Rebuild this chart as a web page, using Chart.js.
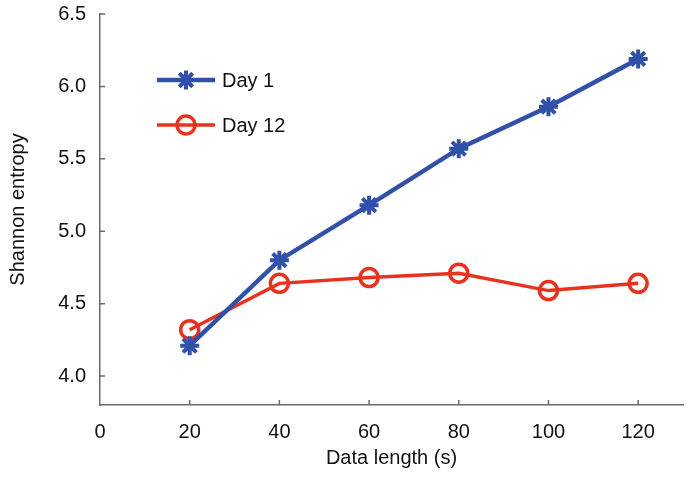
<!DOCTYPE html>
<html><head><meta charset="utf-8">
<script src="https://cdn.jsdelivr.net/npm/chart.js@4/dist/chart.umd.min.js"></script>
<style>html,body{margin:0;padding:0;background:#fff}#wrap{width:700px;height:477px}</style>
</head><body><div id="wrap"><canvas id="c"></canvas></div>
<script>
const dataLength = [20, 40, 60, 80, 100, 120];
const day1 = [4.21, 4.80, 5.18, 5.57, 5.86, 6.19];
const day12 = [4.32, 4.64, 4.68, 4.71, 4.59, 4.64];
const seriesNames = ['Day 1', 'Day 12'];
const xTicks = [0, 20, 40, 60, 80, 100, 120];
const yTicks = [4.0, 4.5, 5.0, 5.5, 6.0, 6.5];

const BLUE = '#3151a9', RED = '#e8321f', AXIS = '#6a6a6a';
const FONT = "'Liberation Sans', Arial, sans-serif";

const inwardTicks = {
  id: 'inwardTicks',
  afterDatasetsDraw(chart) {
    const ctx = chart.ctx, x = chart.scales.x, y = chart.scales.y, a = chart.chartArea;
    ctx.save(); ctx.strokeStyle = AXIS; ctx.lineWidth = 1.5;
    ctx.beginPath();
    xTicks.forEach(v => { if (v === 0) return; const px = x.getPixelForValue(v); ctx.moveTo(px, a.bottom); ctx.lineTo(px, a.bottom - 5); });
    yTicks.forEach(v => { const py = y.getPixelForValue(v); ctx.moveTo(a.left, py); ctx.lineTo(a.left + 5, py); });
    ctx.stroke(); ctx.restore();
  }
};

const insideLegend = {
  id: 'insideLegend',
  afterDraw(chart) {
    const ctx = chart.ctx;
    chart.data.datasets.forEach((ds, i) => {
      const yy = 80 + i * 45, x0 = 157, x1 = 215, xm = (x0 + x1) / 2;
      ctx.save();
      ctx.strokeStyle = ds.borderColor; ctx.lineWidth = ds.borderWidth;
      ctx.beginPath(); ctx.moveTo(x0, yy); ctx.lineTo(x1, yy); ctx.stroke();
      ctx.strokeStyle = ds.pointBorderColor; ctx.fillStyle = ds.pointBackgroundColor; ctx.lineWidth = ds.pointBorderWidth;
      Chart.helpers.drawPoint(ctx, {pointStyle: ds.pointStyle, radius: ds.pointRadius, borderWidth: ds.pointBorderWidth, rotation: 0}, xm, yy);
      ctx.fillStyle = '#111'; ctx.font = '20px ' + FONT; ctx.textBaseline = 'middle'; ctx.textAlign = 'left';
      ctx.fillText(ds.label, 222, yy + 1);
      ctx.restore();
    });
  }
};

new Chart(document.getElementById('c'), {
  type: 'line',
  data: {
    datasets: [
      { label: seriesNames[0], data: dataLength.map((v, i) => ({x: v, y: day1[i]})),
        borderColor: BLUE, borderWidth: 4.5, pointStyle: 'star', pointRadius: 9.5, pointBorderWidth: 4,
        pointBorderColor: BLUE, pointBackgroundColor: BLUE, tension: 0 },
      { label: seriesNames[1], data: dataLength.map((v, i) => ({x: v, y: day12[i]})),
        borderColor: RED, borderWidth: 3.5, pointStyle: 'circle', pointRadius: 9, pointBorderWidth: 3.5,
        pointBorderColor: RED, pointBackgroundColor: 'rgba(0,0,0,0)', tension: 0 }
    ]
  },
  options: {
    responsive: true, maintainAspectRatio: false, animation: false,
    layout: { autoPadding: false, padding: { top: 14, right: 17, left: 0, bottom: 0 } },
    plugins: { legend: { display: false }, tooltip: { enabled: false } },
    scales: {
      x: { type: 'linear', min: 0, max: 130,
        afterBuildTicks: s => { s.ticks = xTicks.map(v => ({value: v})); },
        afterFit: s => { s.height = 72; s.paddingLeft = 0; s.paddingRight = 0; },
        grid: { display: false, drawTicks: false },
        border: { color: AXIS, width: 1.5 },
        ticks: { color: '#111', font: { family: FONT, size: 20 }, padding: 15 },
        title: { display: true, text: 'Data length (s)', color: '#111', font: { family: FONT, size: 20 }, padding: { top: 0, bottom: 7 } } },
      y: { min: 3.8, max: 6.5,
        afterBuildTicks: s => { s.ticks = yTicks.map(v => ({value: v})); },
        afterFit: s => { s.width = 100; s.paddingTop = 0; s.paddingBottom = 0; },
        grid: { display: false, drawTicks: false },
        border: { color: AXIS, width: 1.5 },
        ticks: { color: '#111', font: { family: FONT, size: 20 }, padding: 14, callback: v => Number(v).toFixed(1) },
        title: { display: true, text: 'Shannon entropy', color: '#111', font: { family: FONT, size: 20 }, padding: { top: 6, bottom: 0 } } }
    }
  },
  plugins: [inwardTicks, insideLegend]
});
</script></body></html>
